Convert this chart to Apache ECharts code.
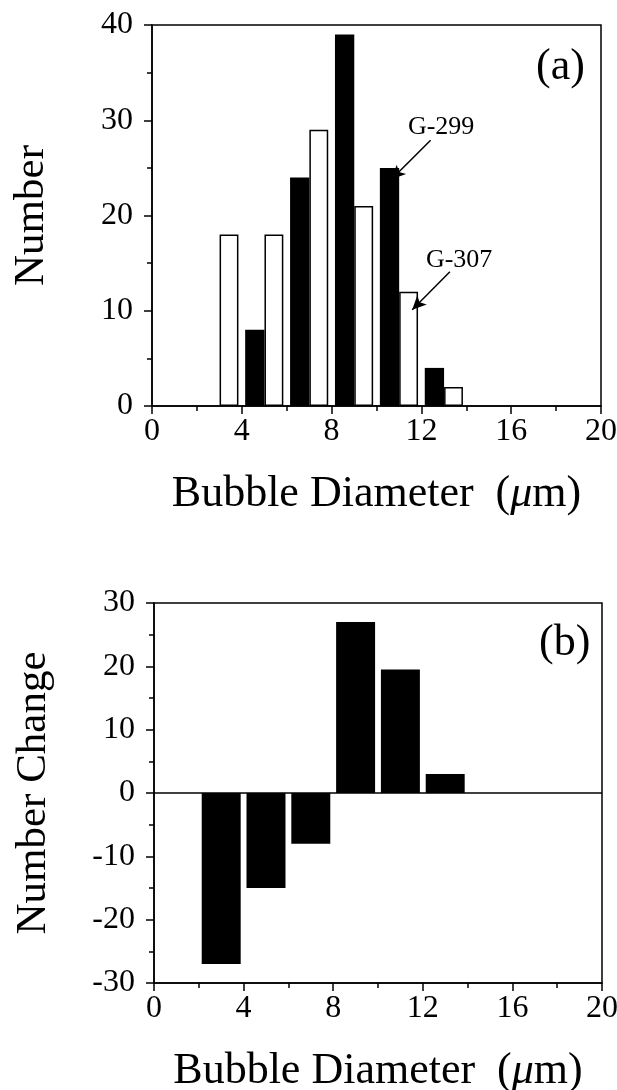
<!DOCTYPE html>
<html>
<head>
<meta charset="utf-8">
<script src="https://cdn.jsdelivr.net/npm/echarts@6/dist/echarts.min.js"></script>
<style>
  html, body { margin: 0; padding: 0; background: #fff; }
  #chart { width: 617px; height: 1090px; }
</style>
</head>
<body>
<div id="chart"></div>
<script>
// Bubble-diameter histogram bins (centres, µm)
const binCenters = [3, 5, 7, 9, 11, 13];
// Counts per bin for each glass
const g299Counts = [0, 8, 24, 39, 25, 4];
const g307Counts = [18, 18, 29, 21, 12, 2];
// Change in number per bin
const numberChange = [-27, -15, -8, 27, 19.5, 3];
// Axis ranges / tick steps
const xRange = [0, 20], xStep = 4;
const yRangeA = [0, 40], yStepA = 10;
const yRangeB = [-30, 30], yStepB = 10;
// Callout arrows in panel (a): [label, labelX, labelY, tailX, tailY, headX, headY]
const callouts = [
  ['G-299', 13.3, 29.3, 12.83, 27.9, 11.09, 23.8],
  ['G-307', 14.1, 15.3, 13.69, 14.1, 12.01, 10.1]
];

const FONT = 'Liberation Serif';
const AXIS_W = 1.5;

function xAxisFor(gridIndex) {
  return {
    type: 'value', gridIndex,
    min: xRange[0], max: xRange[1], interval: xStep,
    name: 'Bubble Diameter  ({it|\u03bc}m)',
    nameLocation: 'middle', nameGap: 66,
    nameTextStyle: {
      fontFamily: FONT, fontSize: 44, color: '#000',
      rich: { it: { fontFamily: FONT, fontSize: 44, fontStyle: 'italic', color: '#000' } }
    },
    axisLine: { onZero: false, lineStyle: { color: '#000', width: AXIS_W } },
    axisTick: { show: true, inside: false, length: 8, lineStyle: { color: '#000', width: AXIS_W } },
    minorTick: { show: true, splitNumber: 2, length: 5, lineStyle: { color: '#000', width: AXIS_W } },
    axisLabel: { fontFamily: FONT, fontSize: 32, color: '#000', margin: 10 },
    splitLine: { show: false }
  };
}

function yAxisFor(gridIndex, range, step, name) {
  return {
    type: 'value', gridIndex,
    min: range[0], max: range[1], interval: step,
    name, nameLocation: 'middle', nameGap: 99,
    nameTextStyle: { fontFamily: FONT, fontSize: 43, color: '#000' },
    axisLine: { onZero: false, lineStyle: { color: '#000', width: AXIS_W } },
    axisTick: { show: true, inside: false, length: 8, lineStyle: { color: '#000', width: AXIS_W } },
    minorTick: { show: true, splitNumber: 2, length: 5, lineStyle: { color: '#000', width: AXIS_W } },
    axisLabel: { fontFamily: FONT, fontSize: 32, color: '#000', margin: 19 },
    splitLine: { show: false }
  };
}

const pairs = (vals) => binCenters.map((x, i) => [x, vals[i]]);

const chart = echarts.init(document.getElementById('chart'), null, { renderer: 'canvas' });
chart.setOption({
  animation: false,
  backgroundColor: '#fff',
  grid: [
    { left: 152, top: 25, width: 449, height: 381, outerBoundsMode: 'none',
      show: true, borderColor: '#000', borderWidth: AXIS_W, backgroundColor: 'transparent' },
    { left: 154, top: 603, width: 448, height: 380, outerBoundsMode: 'none',
      show: true, borderColor: '#000', borderWidth: AXIS_W, backgroundColor: 'transparent' }
  ],
  xAxis: [xAxisFor(0), xAxisFor(1)],
  yAxis: [
    yAxisFor(0, yRangeA, yStepA, 'Number'),
    yAxisFor(1, yRangeB, yStepB, 'Number Change')
  ],
  graphic: [
    { type: 'text', left: 536, top: 45, style: { text: '(a)', font: '44px "Liberation Serif"', fill: '#000' } },
    { type: 'text', left: 539, top: 621, style: { text: '(b)', font: '44px "Liberation Serif"', fill: '#000' } }
  ],
  series: [
    {
      name: 'G-299', type: 'bar', xAxisIndex: 0, yAxisIndex: 0,
      data: pairs(g299Counts),
      barWidth: '43%', barGap: '0%',
      itemStyle: { color: '#000' },
      markLine: {
        silent: true, symbol: ['none', 'arrow'], symbolSize: [10, 14],
        label: { show: false },
        lineStyle: { color: '#000', width: 1.5, type: 'solid' },
        data: callouts.map(c => [{ coord: [c[3], c[4]] }, { coord: [c[5], c[6]] }])
      },
      markPoint: {
        silent: true, symbolSize: 0,
        label: { show: true, position: 'inside', formatter: '{b}', fontFamily: FONT, fontSize: 26, color: '#000' },
        data: callouts.map(c => ({ name: c[0], coord: [c[1], c[2]] }))
      }
    },
    {
      name: 'G-307', type: 'bar', xAxisIndex: 0, yAxisIndex: 0,
      data: pairs(g307Counts),
      barWidth: '42%', barGap: '0%',
      itemStyle: { color: '#fff', borderColor: '#000', borderWidth: 1.5 }
    },
    {
      name: 'Change', type: 'bar', xAxisIndex: 1, yAxisIndex: 1,
      data: pairs(numberChange),
      barWidth: '87%',
      itemStyle: { color: '#000' },
      markLine: {
        silent: true, symbol: 'none',
        label: { show: false },
        lineStyle: { color: '#000', width: 1.5, type: 'solid' },
        data: [{ yAxis: 0 }]
      }
    }
  ]
});
</script>
</body>
</html>
